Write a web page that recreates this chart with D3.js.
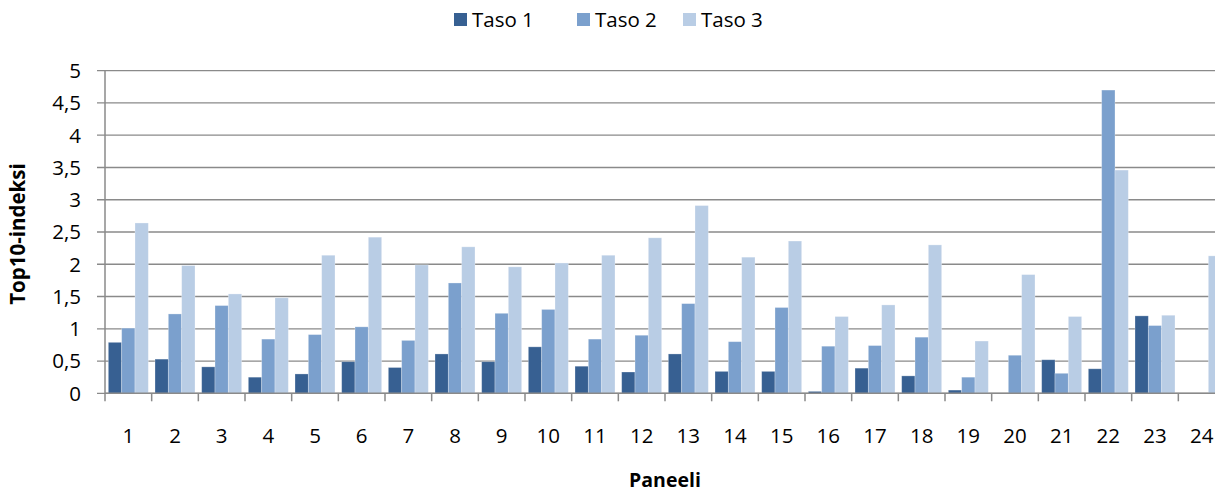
<!DOCTYPE html>
<html><head><meta charset="utf-8">
<script src="https://cdn.jsdelivr.net/npm/d3@7"></script>
<style>body{margin:0;background:#fff}svg{display:block}text{font-family:"Open Sans",sans-serif}</style>
</head><body><svg id="c" width="1215" height="492"></svg>
<script>
const categories = ["1","2","3","4","5","6","7","8","9","10","11","12","13","14","15","16","17","18","19","20","21","22","23","24"];
const seriesNames = ["Taso 1","Taso 2","Taso 3"];
const taso1 = [0.79,0.53,0.41,0.25,0.30,0.49,0.40,0.61,0.49,0.72,0.42,0.33,0.61,0.34,0.34,0.03,0.39,0.27,0.05,0,0.52,0.38,1.20,0];
const taso2 = [1.01,1.23,1.36,0.84,0.91,1.03,0.82,1.71,1.24,1.30,0.84,0.90,1.39,0.80,1.33,0.73,0.74,0.87,0.25,0.59,0.31,4.70,1.05,0];
const taso3 = [2.64,1.98,1.54,1.48,2.14,2.42,1.99,2.27,1.96,2.02,2.14,2.41,2.91,2.11,2.36,1.19,1.37,2.30,0.81,1.84,1.19,3.46,1.21,2.13];
const yTicks = [0,0.5,1,1.5,2,2.5,3,3.5,4,4.5,5];
const colors = ["#376092","#7BA0CD","#B9CDE5"];
const seriesVals = [taso1,taso2,taso3];

const svg = d3.select("#c");
const pL = 105, pR = 1225, pT = 70.7, pB = 393.3;
const x = d3.scaleBand().domain(categories).range([pL,pR]).paddingInner(1/7).paddingOuter(1/14);
const xs = d3.scaleBand().domain(seriesNames).range([0,x.bandwidth()]);
const y = d3.scaleLinear().domain([0,5]).range([pB,pT]);
const fmt = v => String(v).replace(".",",");

// gridlines
svg.append("g").selectAll("line").data(yTicks).join("line")
  .attr("x1",pL-8).attr("x2",1215).attr("y1",d=>y(d)).attr("y2",d=>y(d))
  .attr("stroke","#8a8a8a").attr("stroke-width",1.3);

// y tick labels
svg.append("g").selectAll("text").data(yTicks).join("text")
  .attr("x",81).attr("y",d=>y(d)).attr("dy","0.36em").attr("text-anchor","end")
  .attr("font-size",20.5).attr("fill","#000").text(fmt);

// bars
const g = svg.append("g");
seriesVals.forEach((vals,si)=>{
  g.append("g").selectAll("rect").data(vals).join("rect")
    .attr("x",(d,i)=>x(categories[i])+xs(seriesNames[si]))
    .attr("width",xs.bandwidth())
    .attr("y",d=>y(d)).attr("height",d=>y(0)-y(d))
    .attr("fill",colors[si])
    .attr("stroke",d=>d>0?"rgba(255,255,255,0.35)":"none").attr("stroke-width",0.8);
});

// axes lines
svg.append("line").attr("x1",pL).attr("x2",pL).attr("y1",pT).attr("y2",pB)
  .attr("stroke","#8a8a8a").attr("stroke-width",1.5);
svg.append("line").attr("x1",pL).attr("x2",1215).attr("y1",pB).attr("y2",pB)
  .attr("stroke","#8a8a8a").attr("stroke-width",1.5);
// x boundary ticks
const half = (x.step()-x.bandwidth())/2;
const bounds = categories.map(c=>x(c)-half).concat([x(categories[categories.length-1])+x.bandwidth()+half]);
svg.append("g").selectAll("line").data(bounds).join("line")
  .attr("x1",d=>d).attr("x2",d=>d).attr("y1",pB).attr("y2",pB+8)
  .attr("stroke","#8a8a8a").attr("stroke-width",1.5);

// x labels
svg.append("g").selectAll("text").data(categories).join("text")
  .attr("x",d=>x(d)+x.bandwidth()/2).attr("y",442.5).attr("text-anchor","middle")
  .attr("font-size",20.5).text(d=>d);

// axis titles
svg.append("text").attr("x",665).attr("y",487).attr("text-anchor","middle")
  .attr("font-size",19.5).attr("font-weight","bold").text("Paneeli");
svg.append("text").attr("transform","translate(25,234) rotate(-90)").attr("text-anchor","middle")
  .attr("font-size",20.5).attr("font-weight","bold").text("Top10-indeksi");

// legend
const legX = [454,577,683];
const leg = svg.append("g");
seriesNames.forEach((n,i)=>{
  leg.append("rect").attr("x",legX[i]).attr("y",13).attr("width",13).attr("height",13).attr("fill",colors[i]);
  leg.append("text").attr("x",legX[i]+18).attr("y",27).attr("font-size",20.5).text(n);
});
</script></body></html>
